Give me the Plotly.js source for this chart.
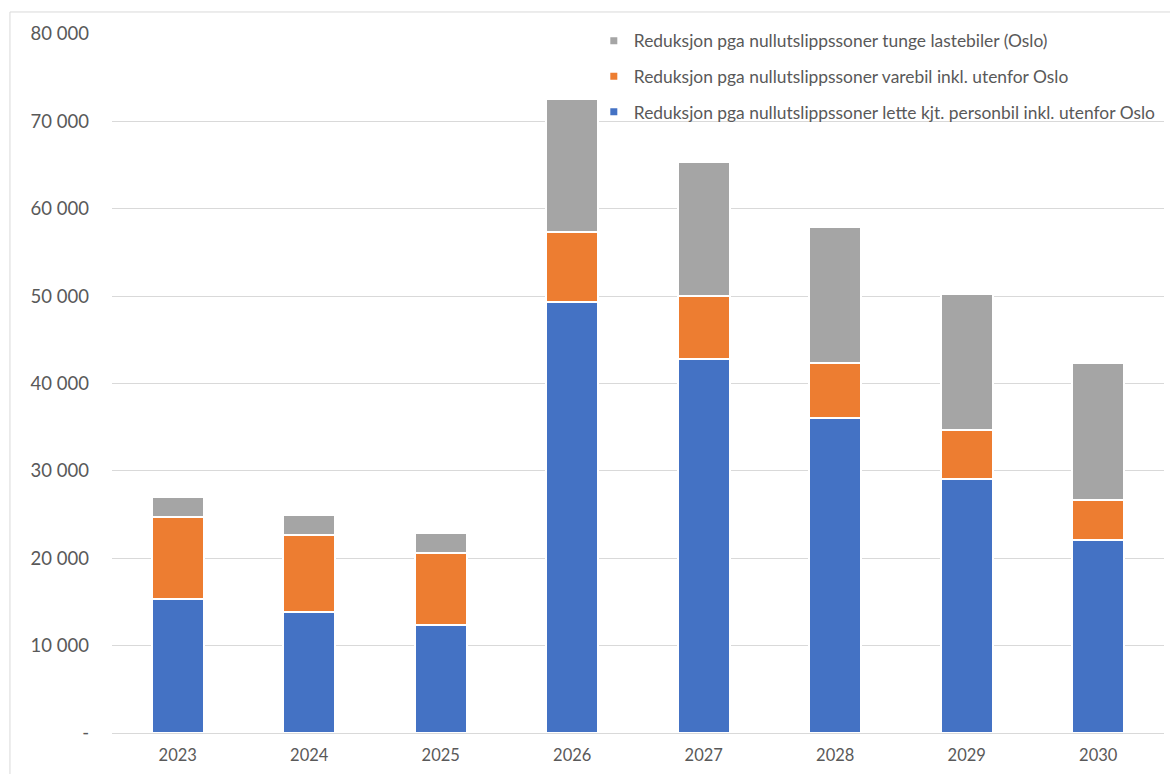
<!DOCTYPE html>
<html>
<head>
<meta charset="utf-8">
<script src="https://cdn.plot.ly/plotly-3.0.1.min.js"></script>
<style>
  html, body { margin: 0; padding: 0; background: #ffffff; overflow: hidden; }
  #chart { width: 1170px; height: 774px; }
</style>
</head>
<body>
<div id="chart"></div>
<script>
// Years on the category axis
const years = ['2023', '2024', '2025', '2026', '2027', '2028', '2029', '2030'];

// Series names
const nameLette = 'Reduksjon pga nullutslippssoner lette kjt. personbil inkl. utenfor Oslo';
const nameVare = 'Reduksjon pga nullutslippssoner varebil inkl. utenfor Oslo';
const nameTunge = 'Reduksjon pga nullutslippssoner tunge lastebiler (Oslo)';

// Stacked values per year
const letteValues = [15300, 13900, 12400, 49300, 42750, 36000, 29100, 22100];
const vareValues  = [9450, 8750, 8150, 8050, 7300, 6400, 5600, 4600];
const tungeValues = [2250, 2350, 2300, 15250, 15250, 15550, 15550, 15600];

// Y-axis ticks
const yTickVals = [0, 10000, 20000, 30000, 40000, 50000, 60000, 70000, 80000];
const yTickText = ['-', '10 000', '20 000', '30 000', '40 000', '50 000', '60 000', '70 000', '80 000'];

const colors = { lette: '#4472C4', vare: '#ED7D31', tunge: '#A5A5A5' };
const fontFamily = 'Lato, "Open Sans", sans-serif';
const textColor = '#595959';

function barTrace(name, values, color) {
  return {
    type: 'bar',
    name: name,
    x: years,
    y: values,
    showlegend: false,
    marker: { color: color, line: { color: '#ffffff', width: 2 } },
    hoverinfo: 'x+y+name'
  };
}

// Small square legend keys (one group each, so the group gap spaces the rows)
function keyTrace(name, color, group) {
  return {
    type: 'scatter',
    mode: 'markers',
    name: name,
    x: [null],
    y: [null],
    legendgroup: group,
    showlegend: true,
    hoverinfo: 'skip',
    marker: { symbol: 'square', size: 7, color: color }
  };
}

const data = [
  barTrace(nameLette, letteValues, colors.lette),
  barTrace(nameVare, vareValues, colors.vare),
  barTrace(nameTunge, tungeValues, colors.tunge),
  keyTrace(nameTunge, colors.tunge, 'k1'),
  keyTrace(nameVare, colors.vare, 'k2'),
  keyTrace(nameLette, colors.lette, 'k3')
];

const layout = {
  width: 1170,
  height: 774,
  paper_bgcolor: '#ffffff',
  plot_bgcolor: '#ffffff',
  margin: { l: 112, r: 6, t: 34, b: 41, autoexpand: false },
  barmode: 'stack',
  bargap: 0.605,
  font: { family: fontFamily, color: textColor },
  xaxis: {
    type: 'category',
    categoryorder: 'array',
    categoryarray: years,
    showgrid: false,
    showline: false,
    zeroline: false,
    ticks: '',
    ticklabelstandoff: 10,
    tickfont: { size: 16.5, color: textColor, family: fontFamily }
  },
  yaxis: {
    range: [0, 80000],
    tickvals: yTickVals,
    ticktext: yTickText,
    showgrid: true,
    gridcolor: '#d9d9d9',
    gridwidth: 1,
    zeroline: true,
    zerolinecolor: '#d9d9d9',
    zerolinewidth: 1,
    showline: false,
    ticks: '',
    ticklabelstandoff: 22,
    tickfont: { size: 18.5, color: textColor, family: fontFamily },
    fixedrange: true
  },
  legend: {
    x: 0.458,
    xanchor: 'left',
    y: 1.016,
    yanchor: 'top',
    bgcolor: 'rgba(0,0,0,0)',
    borderwidth: 0,
    traceorder: 'grouped',
    tracegroupgap: 10,
    font: { size: 17.4, color: textColor, family: fontFamily },
    itemclick: false,
    itemdoubleclick: false
  },
  shapes: [
    // chart-area frame
    {
      type: 'rect',
      xref: 'paper',
      yref: 'paper',
      x0: -0.097,
      x1: 1.2,
      y0: -0.2,
      y1: 1.0315,
      line: { color: '#d9d9d9', width: 1 },
      fillcolor: 'rgba(0,0,0,0)',
      layer: 'below'
    },
    // legend backdrop hiding the gridlines behind the legend text
    {
      type: 'rect',
      xref: 'paper',
      yref: 'paper',
      x0: 0.4715,
      x1: 1.2,
      y0: 0.868,
      y1: 1.02,
      line: { width: 0 },
      fillcolor: '#ffffff',
      layer: 'between'
    }
  ]
};

Plotly.newPlot('chart', data, layout, { displayModeBar: false, responsive: false });
</script>
</body>
</html>
